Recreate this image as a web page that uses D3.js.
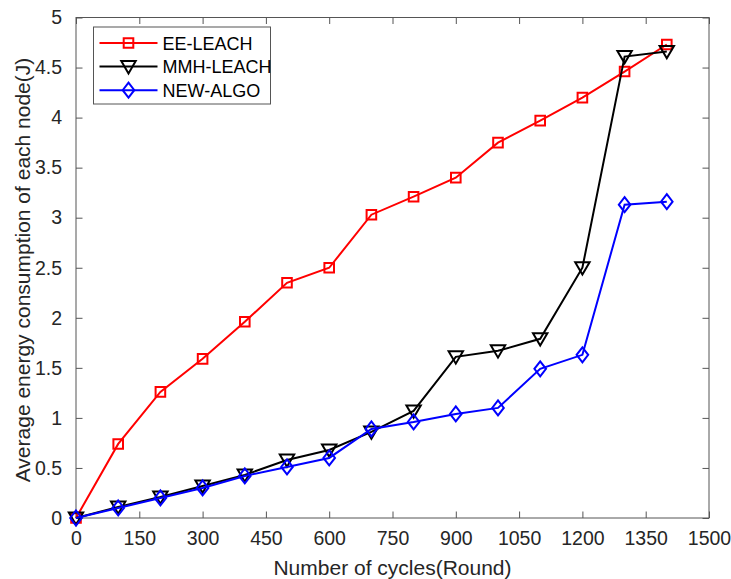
<!DOCTYPE html>
<html>
<head>
<meta charset="utf-8">
<script src="https://cdn.jsdelivr.net/npm/d3@7"></script>
<style>
body { margin: 0; background: #fff; }
svg { font-family: "Liberation Sans", Arial, sans-serif; }
</style>
</head>
<body>
<svg id="chart" width="731" height="579"></svg>
<script>
var rounds = [0, 100, 200, 300, 400, 500, 600, 700, 800, 900, 1000, 1100, 1200, 1300, 1400];
var eeLeach = [0, 0.74, 1.26, 1.59, 1.96, 2.35, 2.5, 3.03, 3.21, 3.4, 3.75, 3.97, 4.2, 4.46, 4.73];
var mmhLeach = [0, 0.11, 0.21, 0.32, 0.43, 0.58, 0.68, 0.86, 1.07, 1.61, 1.67, 1.79, 2.5, 4.61, 4.66];
var newAlgo = [0, 0.1, 0.2, 0.3, 0.42, 0.51, 0.6, 0.89, 0.96, 1.04, 1.1, 1.49, 1.63, 3.13, 3.16];
var xTicks = [0, 150, 300, 450, 600, 750, 900, 1050, 1200, 1350, 1500];
var yTicks = [0, 0.5, 1, 1.5, 2, 2.5, 3, 3.5, 4, 4.5, 5];

var series = [
	{name: "EE-LEACH", values: eeLeach, color: "#ff0000", marker: "square"},
	{name: "MMH-LEACH", values: mmhLeach, color: "#000000", marker: "triangle"},
	{name: "NEW-ALGO", values: newAlgo, color: "#0000ff", marker: "diamond"}
];

var plotLeft = 76, plotRight = 709, plotTop = 17.5, plotBottom = 518;
var axisColor = "#555";
var textColor = "#262626";

var x = d3.scaleLinear().domain([0, 1500]).range([plotLeft, plotRight]);
var y = d3.scaleLinear().domain([0, 5]).range([plotBottom, plotTop]);

var svg = d3.select("#chart");

// box around plot
svg.append("rect")
	.attr("x", plotLeft).attr("y", plotTop)
	.attr("width", plotRight - plotLeft).attr("height", plotBottom - plotTop)
	.attr("fill", "none").attr("stroke", axisColor).attr("stroke-width", 1);

// ticks, inward on all four sides
function tickAxis(axis, pos) {
	var g = svg.append("g").attr("transform", pos).call(axis);
	g.select(".domain").remove();
	g.selectAll("line").attr("stroke", axisColor);
	g.selectAll("text").attr("font-size", 19.5).attr("fill", textColor);
	g.attr("font-family", null);
	return g;
}

function plain(d){ return String(d); }

tickAxis(d3.axisBottom(x).tickValues(xTicks).tickSizeInner(-6.5).tickSizeOuter(0).tickPadding(13).tickFormat(plain), "translate(0," + plotBottom + ")");
tickAxis(d3.axisTop(x).tickValues(xTicks).tickSizeInner(-6.5).tickSizeOuter(0).tickFormat(""), "translate(0," + plotTop + ")");
tickAxis(d3.axisLeft(y).tickValues(yTicks).tickSizeInner(-6.5).tickSizeOuter(0).tickPadding(14).tickFormat(plain), "translate(" + plotLeft + ",0)");
tickAxis(d3.axisRight(y).tickValues(yTicks).tickSizeInner(-6.5).tickSizeOuter(0).tickFormat(""), "translate(" + plotRight + ",0)");

// axis labels
svg.append("text")
	.attr("x", (plotLeft + plotRight) / 2).attr("y", 575)
	.attr("text-anchor", "middle").attr("font-size", 21).attr("fill", textColor)
	.text("Number of cycles(Round)");

svg.append("text")
	.attr("transform", "translate(30,270) rotate(-90)")
	.attr("text-anchor", "middle").attr("font-size", 21).attr("fill", textColor)
	.text("Average energy consumption of each node(J)");

function markerPath(type) {
	if (type == "square") return "M-4.8 -4.8 L4.8 -4.8 L4.8 4.8 L-4.8 4.8 Z";
	if (type == "triangle") return "M-7.2 -5.5 L7.2 -5.5 L0 6.8 Z";
	return "M0 -7.5 L5.8 0 L0 7.5 L-5.8 0 Z";
}

var line = d3.line()
	.x(function(d){ return x(d[0]); })
	.y(function(d){ return y(d[1]); });

series.forEach(function(s){
	var pts = rounds.map(function(r, i){ return [r, s.values[i]]; });
	svg.append("path")
		.attr("d", line(pts))
		.attr("fill", "none").attr("stroke", s.color).attr("stroke-width", 2);
	svg.selectAll(null).data(pts).enter().append("path")
		.attr("d", markerPath(s.marker))
		.attr("transform", function(d){ return "translate(" + x(d[0]) + "," + y(d[1]) + ")"; })
		.attr("fill", "none").attr("stroke", s.color).attr("stroke-width", 2);
});

// legend
var lg = svg.append("g").attr("transform", "translate(93.5,27)");
lg.append("rect").attr("width", 177).attr("height", 77)
	.attr("fill", "#fff").attr("stroke", axisColor).attr("stroke-width", 1);
series.forEach(function(s, i){
	var ly = 16 + i * 23.6;
	lg.append("path").attr("d", "M6 " + ly + " L64 " + ly)
		.attr("stroke", s.color).attr("stroke-width", 2);
	lg.append("path").attr("d", markerPath(s.marker))
		.attr("transform", "translate(35," + ly + ")")
		.attr("fill", "none").attr("stroke", s.color).attr("stroke-width", 2);
	lg.append("text").attr("x", 69).attr("y", ly + 6.5)
		.attr("font-size", 18).attr("fill", "#000")
		.text(s.name);
});
</script>
</body>
</html>
